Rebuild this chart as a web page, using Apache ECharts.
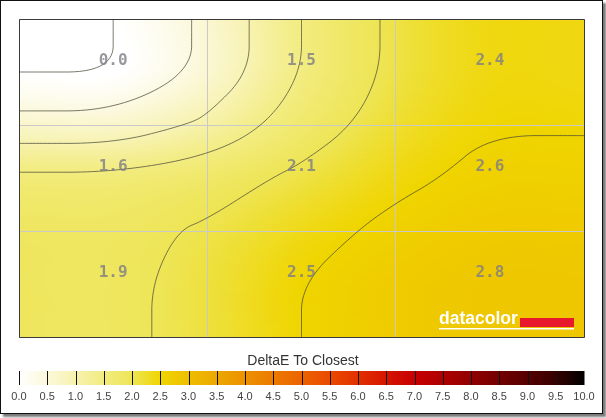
<!DOCTYPE html>
<html>
<head>
<meta charset="utf-8">
<script src="https://cdn.jsdelivr.net/npm/echarts@6/dist/echarts.min.js"></script>
<style>
html, body { margin: 0; padding: 0; background: #fff; }
#frame { position: absolute; left: 0; top: 0; width: 601px; height: 412px; border: 1px solid #111; box-shadow: 3px 3px 2px #7a7a7a; background: #fff; }
#chart { position: absolute; left: 0; top: 0; width: 606px; height: 418px; }
</style>
</head>
<body>
<div id="frame"></div>
<div id="chart"></div>
<script>
// measured deltaE per patch, top row first
const row1 = [0.0, 1.5, 2.4];
const row2 = [1.6, 2.1, 2.6];
const row3 = [1.9, 2.5, 2.8];
const rows = [row1, row2, row3];

const contourLevels = [0, 0.5, 1.0, 1.5, 2.0, 2.5];

const scaleTicks = [0, 0.5, 1, 1.5, 2, 2.5, 3, 3.5, 4, 4.5, 5, 5.5, 6, 6.5, 7, 7.5, 8, 8.5, 9, 9.5, 10];
const scaleColors = [
  '#ffffff', '#fbf8da', '#f7f2ae', '#f2ec80', '#eee556', '#efd500',
  '#eebe00', '#eca700', '#ec9100', '#ec7a00', '#ec6300', '#ea4a00',
  '#e23000', '#d51500', '#c70000', '#ae0000', '#910000', '#730000',
  '#550000', '#360000', '#000000'
];

function hexToRgb (h) {
  return [parseInt(h.substr(1, 2), 16), parseInt(h.substr(3, 2), 16), parseInt(h.substr(5, 2), 16)]
}
const scaleRgb = scaleColors.map(hexToRgb);

function colorAt (v) {
  v = Math.max(scaleTicks[0], Math.min(scaleTicks[scaleTicks.length - 1], v));
  let i = 0;
  while (i < scaleTicks.length - 2 && v > scaleTicks[i + 1]) i++;
  const t = (v - scaleTicks[i]) / (scaleTicks[i + 1] - scaleTicks[i]);
  const a = scaleRgb[i], b = scaleRgb[i + 1];
  return 'rgb(' + [0, 1, 2].map(k => Math.round(a[k] + (b[k] - a[k]) * t)).join(',') + ')';
}

// cubic hermite; tanFn gives the slope at each knot
function hermite (p, x, tanFn) {
  const n = p.length;
  x = Math.max(0, Math.min(n - 1, x));
  const i = Math.min(Math.floor(x), n - 2);
  const t = x - i;
  const t2 = t * t, t3 = t2 * t;
  return (2 * t3 - 3 * t2 + 1) * p[i] + (t3 - 2 * t2 + t) * tanFn(p, i) +
    (-2 * t3 + 3 * t2) * p[i + 1] + (t3 - t2) * tanFn(p, i + 1);
}
// through the patch centres: flat at the outer patches
const flatEnds = (p, k) => (k === 0 || k === p.length - 1) ? 0 : (p[k + 1] - p[k - 1]) / 2;
const catmull = (p, k) => (p[Math.min(p.length - 1, k + 1)] - p[Math.max(0, k - 1)]) / 2;

function rawField (u, v) {
  const col = rows.map(r => hermite(r, u - 0.5, flatEnds));
  return hermite(col, v - 0.5, flatEnds);
}

const cells = [];
const labels = [];
rows.forEach((r, ri) => r.forEach((val, ci) => {
  cells.push([ci, ri, val]);
  labels.push([ci + 0.5, ri + 0.5, val]);
}));

// half-patch sample lattice, edges included
const STEP = 0.5, NG = 6;
const lattice = [];
for (let j = 0; j <= NG; j++) {
  const line = [];
  for (let i = 0; i <= NG; i++) line.push(rawField(i * STEP, j * STEP));
  lattice.push(line);
}
function field (u, v) {
  const col = lattice.map(line => hermite(line, u / STEP, catmull));
  return hermite(col, v / STEP, catmull);
}

function contourLines (th) {
  const pts = {};
  const adj = {};
  const val = (i, j) => lattice[j][i];
  const cross = (key, i0, j0, i1, j1) => {
    const a = val(i0, j0), b = val(i1, j1);
    if ((a <= th) === (b <= th)) return null;
    const t = (th - a) / (b - a);
    pts[key] = [(i0 + (i1 - i0) * t) * STEP, (j0 + (j1 - j0) * t) * STEP];
    return key;
  };
  const link = (a, b) => {
    (adj[a] = adj[a] || []).push(b);
    (adj[b] = adj[b] || []).push(a);
  };
  for (let j = 0; j < NG; j++) {
    for (let i = 0; i < NG; i++) {
      const e = [
        cross('h' + i + '_' + j, i, j, i + 1, j),
        cross('v' + (i + 1) + '_' + j, i + 1, j, i + 1, j + 1),
        cross('h' + i + '_' + (j + 1), i, j + 1, i + 1, j + 1),
        cross('v' + i + '_' + j, i, j, i, j + 1)
      ].filter(k => k);
      if (e.length === 2) link(e[0], e[1]);
      if (e.length === 4) {
        const mid = (val(i, j) + val(i + 1, j) + val(i + 1, j + 1) + val(i, j + 1)) / 4;
        if ((mid <= th) === (val(i, j) <= th)) { link(e[0], e[1]); link(e[2], e[3]); } else { link(e[0], e[3]); link(e[1], e[2]); }
      }
    }
  }
  const used = {};
  const lines = [];
  const walk = start => {
    const line = [start];
    used[start] = true;
    let cur = start;
    for (;;) {
      const nxt = (adj[cur] || []).find(k => !used[k]);
      if (!nxt) break;
      used[nxt] = true;
      line.push(nxt);
      cur = nxt;
    }
    return line.map(k => pts[k]);
  };
  Object.keys(adj).filter(k => adj[k].length === 1).forEach(k => { if (!used[k]) lines.push(walk(k)); });
  Object.keys(adj).forEach(k => { if (!used[k]) { const l = walk(k); l.push(l[0]); lines.push(l); } });
  return lines;
}

// corner cutting, end points kept
function chaikin (p, rounds) {
  for (let r = 0; r < rounds; r++) {
    if (p.length < 3) return p;
    const out = [p[0]];
    for (let i = 0; i < p.length - 1; i++) {
      const a = p[i], b = p[i + 1];
      out.push([a[0] * 0.75 + b[0] * 0.25, a[1] * 0.75 + b[1] * 0.25]);
      out.push([a[0] * 0.25 + b[0] * 0.75, a[1] * 0.25 + b[1] * 0.75]);
    }
    out.push(p[p.length - 1]);
    p = out;
  }
  return p;
}

const chart = echarts.init(document.getElementById('chart'));

chart.setOption({
  animation: false,
  title: {
    text: 'DeltaE To Closest',
    left: 'center',
    top: 349,
    textStyle: { fontSize: 14, fontWeight: 'normal', color: '#333', fontFamily: 'Liberation Sans' }
  },
  grid: [
    { left: 19, top: 19, width: 565, height: 318 },
    { left: 19, top: 371, width: 565, height: 14 }
  ],
  xAxis: [
    {
      type: 'value', min: 0, max: 3, interval: 1, z: 3,
      axisLine: { show: false }, axisTick: { show: false }, axisLabel: { show: false },
      splitLine: { lineStyle: { color: '#c9c9c9', width: 1 } }
    },
    {
      type: 'value', gridIndex: 1, min: 0, max: 10, interval: 0.5,
      axisLine: { show: false }, axisTick: { show: false }, splitLine: { show: false },
      axisLabel: {
        margin: 6, fontSize: 11, color: '#444', fontFamily: 'Liberation Sans',
        formatter: v => v.toFixed(1)
      }
    }
  ],
  yAxis: [
    {
      type: 'value', min: 0, max: 3, interval: 1, inverse: true, z: 3,
      axisLine: { show: false }, axisTick: { show: false }, axisLabel: { show: false },
      splitLine: { lineStyle: { color: '#c9c9c9', width: 1 } }
    },
    { type: 'value', gridIndex: 1, min: 0, max: 1, show: false }
  ],
  series: [
    {
      type: 'custom',
      z: 1,
      silent: true,
      data: cells,
      renderItem (params, api) {
        const c = api.value(0), r = api.value(1);
        const p0 = api.coord([c, r]);
        const p1 = api.coord([c + 1, r + 1]);
        const x0 = Math.min(p0[0], p1[0]), x1 = Math.max(p0[0], p1[0]);
        const y0 = Math.min(p0[1], p1[1]), y1 = Math.max(p0[1], p1[1]);
        const children = [];
        const NS = 24;
        for (let y = y0; y < y1; y += 2) {
          const h = Math.min(2, y1 - y);
          const vy = r + (y + h / 2 - y0) / (y1 - y0);
          const stops = [];
          for (let k = 0; k <= NS; k++) {
            stops.push({ offset: k / NS, color: colorAt(field(c + k / NS, vy)) });
          }
          children.push({
            type: 'rect',
            shape: { x: x0, y: y, width: x1 - x0 + 0.6, height: h + 0.6 },
            style: { fill: new echarts.graphic.LinearGradient(0, 0, 1, 0, stops) }
          });
        }
        return { type: 'group', children };
      }
    },
    {
      type: 'custom',
      z: 4,
      silent: true,
      data: contourLevels.map(l => [l]),
      renderItem (params, api) {
        const th = Math.max(api.value(0), 1e-4);
        const children = [];
        contourLines(th).forEach(line => {
          const px = [];
          line.forEach(q => {
            const c = api.coord(q);
            const last = px[px.length - 1];
            if (!last || Math.hypot(c[0] - last[0], c[1] - last[1]) > 2) px.push(c);
          });
          children.push({
            type: 'polyline',
            shape: { points: chaikin(px, 4) },
            style: { stroke: 'rgba(70,70,55,0.72)', lineWidth: 1, fill: null }
          });
        });
        return { type: 'group', children };
      }
    },
    {
      type: 'scatter',
      z: 5,
      silent: true,
      symbolSize: 0,
      data: labels,
      label: {
        show: true,
        position: 'inside',
        offset: [0, -11],
        formatter: p => p.value[2].toFixed(1),
        fontFamily: 'DejaVu Sans Mono',
        fontWeight: 'bold',
        fontSize: 16,
        color: '#7d7d86'
      }
    },
    {
      type: 'custom',
      xAxisIndex: 1,
      yAxisIndex: 1,
      silent: true,
      data: scaleTicks.slice(0, -1).map(v => [v]),
      renderItem (params, api) {
        const v = api.value(0);
        const a = api.coord([v, 1]);
        const b = api.coord([v + 0.5, 0]);
        const x = Math.round(a[0]) + 0.5;
        return {
          type: 'group',
          children: [
            {
              type: 'rect',
              shape: { x: a[0], y: a[1], width: b[0] - a[0] + 0.5, height: b[1] - a[1] },
              style: { fill: new echarts.graphic.LinearGradient(0, 0, 1, 0, [
                { offset: 0, color: colorAt(v) }, { offset: 1, color: colorAt(v + 0.5) }
              ]) }
            },
            {
              type: 'line',
              shape: { x1: x, y1: a[1], x2: x, y2: b[1] },
              style: { stroke: '#111', lineWidth: 1 }
            }
          ]
        };
      }
    }
  ],
  graphic: [
    {
      type: 'rect',
      z: 100,
      silent: true,
      shape: { x: 19.5, y: 19.5, width: 565, height: 318 },
      style: { fill: null, stroke: '#3a3a3a', lineWidth: 1 }
    },
    {
      type: 'text',
      z: 100,
      silent: true,
      x: 439, y: 310,
      style: { text: 'datacolor', fill: '#fff', font: 'bold 17.5px "Liberation Sans"' }
    },
    {
      type: 'rect',
      z: 100,
      silent: true,
      shape: { x: 520, y: 318, width: 54, height: 9 },
      style: { fill: '#e8192c' }
    },
    {
      type: 'rect',
      z: 100,
      silent: true,
      shape: { x: 439, y: 328, width: 135, height: 1.5 },
      style: { fill: '#fff' }
    }
  ]
});
</script>
</body>
</html>
